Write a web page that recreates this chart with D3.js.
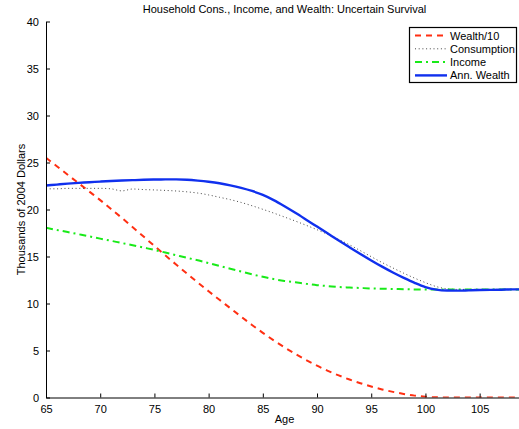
<!DOCTYPE html>
<html>
<head>
<meta charset="utf-8">
<script src="https://cdn.jsdelivr.net/npm/d3@7/dist/d3.min.js"></script>
<style>
  html, body { margin: 0; padding: 0; background: #fff; }
  svg { display: block; font-family: "Liberation Sans", Arial, Helvetica, sans-serif; }
</style>
</head>
<body>
<svg id="chart" width="519" height="429"></svg>
<script>
// Ages 65..109 (one point per year)
const ages = d3.range(65, 110);

// Wealth divided by 10, thousands of 2004 dollars
const wealth10 = [25.5, 24.6, 23.7, 22.8, 21.9, 21.0, 20.05, 19.1, 18.12, 17.12,
  16.12, 15.13, 14.15, 13.18, 12.23, 11.3, 10.4, 9.5, 8.6, 7.72,
  6.88, 6.08, 5.33, 4.63, 3.98, 3.38, 2.84, 2.35, 1.91, 1.52,
  1.17, 0.86, 0.6, 0.38, 0.2, 0.08, 0.02, 0, 0, 0,
  0, 0, 0, 0, 0];

// Consumption
const consumption = [22.2, 22.2, 22.25, 22.25, 22.25, 22.25, 22.2, 21.98, 22.18, 22.12,
  22.08, 22.03, 21.97, 21.88, 21.75, 21.55, 21.3, 21.05, 20.75, 20.4,
  20.02, 19.62, 19.2, 18.77, 18.32, 17.85, 17.35, 16.82, 16.24, 15.62,
  14.98, 14.36, 13.78, 13.22, 12.7, 12.22, 11.8, 11.56, 11.5, 11.5,
  11.5, 11.5, 11.5, 11.5, 11.5];

// Income
const income = [18.05, 17.82, 17.6, 17.37, 17.14, 16.9, 16.67, 16.43, 16.2, 15.95,
  15.7, 15.42, 15.14, 14.86, 14.6, 14.3, 14.0, 13.7, 13.4, 13.1,
  12.85, 12.6, 12.4, 12.25, 12.1, 11.95, 11.85, 11.75, 11.7, 11.65,
  11.6, 11.57, 11.55, 11.52, 11.5, 11.5, 11.5, 11.5, 11.5, 11.5,
  11.5, 11.5, 11.5, 11.5, 11.5];

// Annuitized wealth
const annWealth = [22.55, 22.65, 22.75, 22.83, 22.9, 22.97, 23.03, 23.08, 23.12, 23.16,
  23.19, 23.2, 23.2, 23.16, 23.07, 22.95, 22.79, 22.57, 22.3, 21.97,
  21.55, 21.0, 20.35, 19.65, 18.92, 18.18, 17.44, 16.7, 15.98, 15.27,
  14.58, 13.92, 13.3, 12.73, 12.2, 11.75, 11.48, 11.38, 11.37, 11.4,
  11.43, 11.45, 11.47, 11.5, 11.5];

const xTicks = [65, 70, 75, 80, 85, 90, 95, 100, 105];
const yTicks = [0, 5, 10, 15, 20, 25, 30, 35, 40];

const titleText = "Household Cons., Income, and Wealth: Uncertain Survival";
const xLabel = "Age";
const yLabel = "Thousands of 2004 Dollars";

const series = [
  { name: "Wealth/10",   values: wealth10,    color: "#ff2f12", width: 2,   dash: "6,5" },
  { name: "Consumption", values: consumption, color: "#444",    width: 1,   dash: "1,2.7" },
  { name: "Income",      values: income,      color: "#18ea18", width: 2,   dash: "7,4,2,4" },
  { name: "Ann. Wealth", values: annWealth,   color: "#1030ee", width: 2.4, dash: null }
];

const svg = d3.select("#chart");
const plotLeft = 46, plotRight = 523, plotTop = 21.5, plotBottom = 397.5;

const x = d3.scaleLinear().domain([65, 109]).range([plotLeft, plotRight]);
const y = d3.scaleLinear().domain([0, 40]).range([plotBottom, plotTop]);

// Plot lines, clipped to the axes box
svg.append("clipPath").attr("id", "plotClip")
  .append("rect").attr("x", plotLeft).attr("y", plotTop)
  .attr("width", plotRight - plotLeft).attr("height", plotBottom - plotTop);

const line = d3.line().x((d, i) => x(ages[i])).y(d => y(d)).curve(d3.curveMonotoneX);
const plot = svg.append("g").attr("clip-path", "url(#plotClip)");
series.forEach(s => {
  plot.append("path")
    .datum(s.values)
    .attr("fill", "none")
    .attr("stroke", s.color)
    .attr("stroke-width", s.width)
    .attr("stroke-dasharray", s.dash)
    .attr("d", line);
});

// Axes with inward ticks
const xAxis = d3.axisBottom(x).tickValues(xTicks).tickSizeInner(-4).tickSizeOuter(0).tickPadding(8);
const yAxis = d3.axisLeft(y).tickValues(yTicks).tickSizeInner(-4).tickSizeOuter(0).tickPadding(7);

const gx = svg.append("g").attr("transform", `translate(0,${plotBottom})`).call(xAxis);
const gy = svg.append("g").attr("transform", `translate(${plotLeft},0)`).call(yAxis);
[gx, gy].forEach(g => {
  g.select(".domain").attr("stroke", "#000").attr("stroke-width", 1);
  g.selectAll(".tick line").attr("stroke", "#000");
  g.selectAll(".tick text").attr("fill", "#000").attr("font-size", 11)
    .attr("font-family", "Liberation Sans, Arial, sans-serif");
});

// Title and axis labels
svg.append("text").attr("x", (plotLeft + plotRight) / 2).attr("y", 13)
  .attr("text-anchor", "middle").attr("font-size", 11).text(titleText);
svg.append("text").attr("x", (plotLeft + plotRight) / 2).attr("y", 423)
  .attr("text-anchor", "middle").attr("font-size", 11).text(xLabel);
svg.append("text").attr("transform", `translate(25,${(plotTop + plotBottom) / 2}) rotate(-90)`)
  .attr("text-anchor", "middle").attr("font-size", 11).text(yLabel);

// Legend
const lg = svg.append("g");
lg.append("rect").attr("x", 409.5).attr("y", 27.5).attr("width", 107).attr("height", 55)
  .attr("fill", "#fff").attr("stroke", "#000").attr("stroke-width", 1.2);
series.forEach((s, i) => {
  const cy = 35.5 + i * 13.3;
  lg.append("line").attr("x1", 415).attr("x2", 447).attr("y1", cy).attr("y2", cy)
    .attr("stroke", s.color).attr("stroke-width", s.width).attr("stroke-dasharray", s.dash);
  lg.append("text").attr("x", 450).attr("y", cy + 4).attr("font-size", 11).text(s.name);
});
</script>
</body>
</html>
